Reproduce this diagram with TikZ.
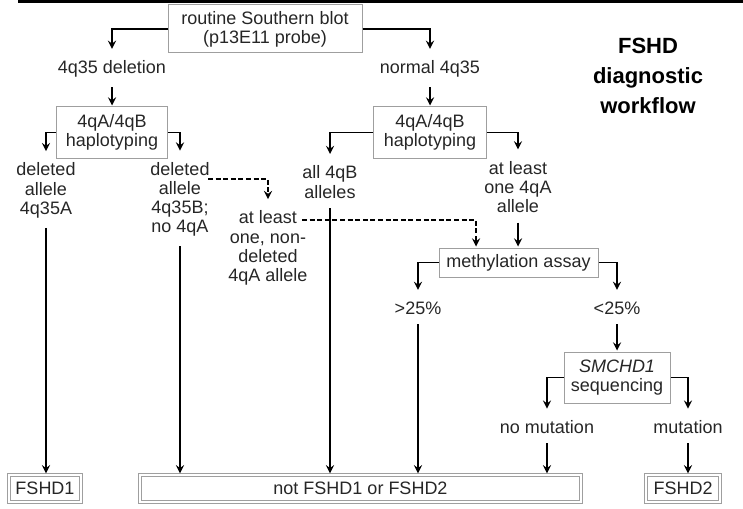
\documentclass[tikz,border=0pt]{standalone}
\usepackage{fontspec}
\setmainfont{Liberation Sans}

\begin{document}
\begin{tikzpicture}[
    x=1pt, y=1pt, % work in points, y downwards is negative
    ->, % Arrow style
    > = stealth, % arrow head style
    shorten > = 0.5pt, % arrow head just off the box
    line width = 0.8pt, % line style
    text = black!85,
    font = \fontsize{9}{9.6}\selectfont
  ]

  \tikzstyle{test}=[rectangle, draw=gray!75, line width=0.5pt, align=center, inner sep=0pt]
  \tikzstyle{branch}=[align=center, inner sep=1pt]
  \tikzstyle{result}=[rectangle, draw=gray!75, double, double distance=0.8pt, line width=0.5pt, inner sep=0pt, minimum height=13.7pt]
  \tikzstyle{to text}=[shorten > = 4.5pt]
  \tikzstyle{from text}=[shorten < = 3.5pt]
  \tikzstyle{hint}=[dash pattern=on 2.5pt off 1.3pt]

  \useasboundingbox (0,0) rectangle (371.5,-254);
  \fill[black] (9,0) rectangle (371.5,-1.5);

  \node[test, minimum width=97pt, minimum height=24pt] (blot) at (132.5,-14.5) {routine Southern blot\\(p13E11 probe)};
  \node[font=\bfseries\fontsize{11}{15}\selectfont, align=center, text=black] (title) at (324,-38) {FSHD\\diagnostic\\workflow};

  \node[branch] (del) at (56,-34.5) {4q35 deletion};
  \node[branch] (norm) at (215,-34.5) {normal 4q35};
  \node[test, minimum width=55.5pt, minimum height=25.5pt] (hapL) [below of=del, node distance=31.75pt] {4qA/4qB\\haplotyping};
  \node[test, minimum width=56.5pt, minimum height=25.5pt] (hapR) [below of=norm, node distance=31.75pt] {4qA/4qB\\haplotyping};

  \node[branch] (delA) at (23,-95.25) {deleted\\allele\\4q35A};
  \node[branch] (delB) at (90,-99.75) {deleted\\allele\\4q35B;\\no 4qA};
  \node[branch] (nondel) at (134,-124) {at least\\one, non-\\deleted\\4qA allele};
  \node[branch] (allB) at (165,-91) {all 4qB\\alleles};
  \node[branch] (oneA) at (259,-93.5) {at least\\one 4qA\\allele};

  \node[test, minimum width=79.5pt, minimum height=14.5pt] (meth) at (259.25,-131.25) {methylation assay};
  \node[branch] (gt) at (209,-154) {>25\%};
  \node[branch] (lt) at (308.5,-154) {<25\%};
  \node[test, minimum width=53pt, minimum height=25.5pt] (smc) [below of=lt, node distance=34.75pt] {\textit{SMCHD1}\\sequencing};
  \node[branch] (nomut) at (273.5,-213.5) {no mutation};
  \node[branch] (mut) at (344,-213.5) {mutation};

  \node[result, minimum width=36.2pt] (fshd1) at (22.5,-244.25) {FSHD1};
  \node[result, minimum width=220.7pt] (none) at (180.25,-244.25) {not FSHD1 or FSHD2};
  \node[result, minimum width=37.2pt] (fshd2) at (341.5,-244.25) {FSHD2};

  \coordinate (delBend) at (104,-89.5);
  \coordinate (nondelend) at (151,-110);

  % Southern blot
  \draw[to text] (blot.west) -| (del.north);
  \draw[to text] (blot.east) -| (norm.north);
  \draw[from text] (del) -- (hapL);
  \draw[from text] (norm) -- (hapR);

  % haplotyping, deleted side
  \draw[to text] (hapL.west) -| (delA.north);
  \draw[to text] (hapL.east) -| (delB.north);
  \draw[from text] (delA) -- (delA |- fshd1.north);
  \draw[from text] (delB) -- (delB |- none.north);
  \draw[hint, to text] (delBend) -| (nondel.north);
  \draw[hint] (nondelend) -| ([xshift=-21.25pt]meth.north);

  % haplotyping, normal side
  \draw[to text] (hapR.west) -| (allB.north);
  \draw[to text] (hapR.east) -| (oneA.north);
  \draw[from text] (allB) -- (allB |- none.north);
  \draw[from text] (oneA) -- (oneA |- meth.north);

  % methylation and SMCHD1
  \draw[to text] (meth.west) -| (gt.north);
  \draw[to text] (meth.east) -| (lt.north);
  \draw[from text] (gt) -- (gt |- none.north);
  \draw[from text] (lt) -- (smc);
  \draw[to text] (smc.west) -| (nomut.north);
  \draw[to text] (smc.east) -| (mut.north);
  \draw[from text] (nomut) -- (nomut |- none.north);
  \draw[from text] (mut) -- (mut |- fshd2.north);

\end{tikzpicture}
\end{document}
